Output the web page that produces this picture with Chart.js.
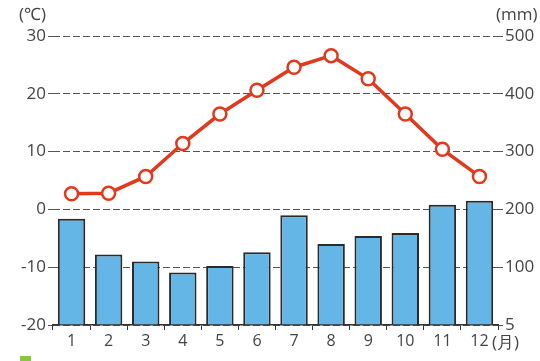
<!DOCTYPE html>
<html lang="ja">
<head>
    <meta charset="utf-8"/>
    <title>Climate chart</title>
    <script src="https://cdn.jsdelivr.net/npm/chart.js"></script>
    <style>
        html, body { margin: 0; padding: 0; background: #fff; }
        #wrap { position: relative; width: 540px; height: 361px; overflow: hidden; }
        #mark { position: absolute; left: 20px; top: 356px; width: 11px; height: 8px; background: #8cc63f; }
    </style>
</head>
<body>
<div id="wrap">
    <canvas id="chart" width="540" height="361"></canvas>
    <div id="mark"></div>
</div>
<script>
    // months
    const months = ['1', '2', '3', '4', '5', '6', '7', '8', '9', '10', '11', '12'];
    // temperature (°C)
    const temps = [2.7, 2.8, 5.7, 11.4, 16.5, 20.6, 24.6, 26.6, 22.6, 16.5, 10.4, 5.7];
    // precipitation (mm)
    const rain = [184, 122, 110, 91, 102, 126, 190, 140, 154, 159, 208, 215];
    // ticks
    const tempTicks = [-20, -10, 0, 10, 20, 30];
    const rainTicks = [0, 100, 200, 300, 400, 500];
    const rainTickText = ['5', '100', '200', '300', '400', '500'];

    const font = "'Open Sans', 'Noto Sans', sans-serif";

    // unit labels drawn on the canvas
    const unitLabels = {
        id: 'unitLabels',
        afterDraw(chart) {
            const c = chart.ctx;
            c.save();
            c.fillStyle = '#444';
            c.font = '17px ' + font;
            c.textBaseline = 'middle';
            c.textAlign = 'left';
            c.fillText('(℃)', 19, 15);
            c.fillText('(mm)', 496, 15);
            c.font = '17px ' + font;
            c.fillText('(月)', 492, 343);
            c.restore();
        }
    };

    new Chart(document.getElementById('chart'), {
        data: {
            labels: months,
            datasets: [{
                type: 'line',
                data: temps,
                yAxisID: 'y',
                borderColor: '#e2391c',
                borderWidth: 3.5,
                pointRadius: 6.5,
                pointBorderWidth: 2.5,
                pointBackgroundColor: '#fff',
                pointBorderColor: '#e2391c',
                order: 0
            }, {
                type: 'bar',
                data: rain,
                yAxisID: 'y2',
                backgroundColor: '#63b6e6',
                borderColor: '#2a2a2a',
                borderWidth: 2,
                borderSkipped: 'bottom',
                categoryPercentage: 1,
                barPercentage: 0.74,
                order: 1
            }]
        },
        options: {
            responsive: false,
            animation: false,
            layout: { padding: { top: 36, left: 0, right: 0, bottom: 0 } },
            plugins: { legend: { display: false }, tooltip: { enabled: false } },
            scales: {
                x: {
                    offset: true,
                    grid: { offset: true, drawOnChartArea: false, tickLength: 5, color: '#333' },
                    border: { color: '#333', width: 1.5 },
                    ticks: { color: '#444', font: { family: font, size: 16 }, padding: 2 },
                    afterFit(s) { s.height = 36; }
                },
                y: {
                    position: 'left',
                    min: -20, max: 30,
                    afterBuildTicks(s) { s.ticks = tempTicks.map(v => ({ value: v })); },
                    grid: { color: '#555', lineWidth: 1, tickLength: 5 },
                    border: { display: false, dash: [7, 3] },
                    ticks: { color: '#444', font: { family: font, size: 17 }, padding: 2 },
                    afterFit(s) { s.width = 53; }
                },
                y2: {
                    position: 'right',
                    min: 0, max: 500,
                    afterBuildTicks(s) { s.ticks = rainTicks.map(v => ({ value: v })); },
                    grid: { drawOnChartArea: false, tickLength: 5, color: '#555' },
                    border: { display: false },
                    ticks: {
                        color: '#444', font: { family: font, size: 17 }, padding: 2,
                        callback: (v) => rainTickText[rainTicks.indexOf(v)]
                    },
                    afterFit(s) { s.width = 42; }
                }
            }
        },
        plugins: [unitLabels]
    });
</script>
</body>
</html>
